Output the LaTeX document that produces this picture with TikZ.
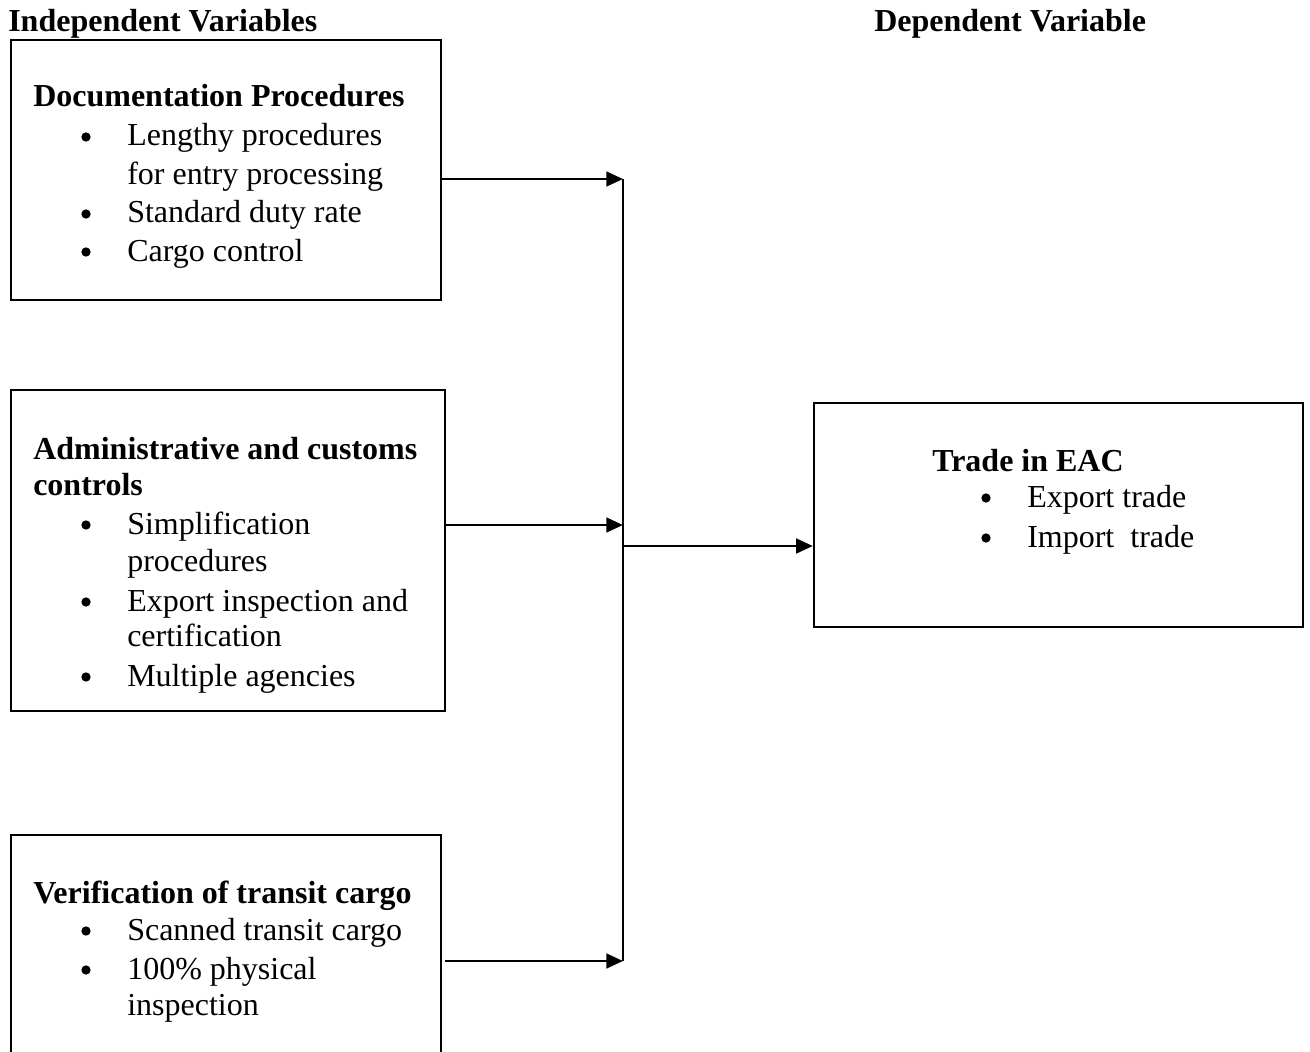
\documentclass[tikz,border=0pt]{standalone}
\usepackage{fontspec}
\setmainfont{Liberation Serif}
\usetikzlibrary{arrows.meta}
\tikzset{
  boxed/.style={draw, line width=1.8pt, inner sep=0pt},
  txt/.style={anchor=base west, inner sep=0pt, font=\fontsize{24}{29}\selectfont},
  head/.style={txt, font=\fontsize{24}{29}\selectfont\bfseries},
  bul/.style={circle, fill, inner sep=0pt, minimum size=7pt},
  conn/.style={line width=2pt, -{Triangle[length=12.5pt,width=11pt]}},
  plain/.style={line width=2pt}
}
\begin{document}
\begin{tikzpicture}[x=0.75pt,y=-0.75pt]
\useasboundingbox (0,0) rectangle (1310,1052);
% headings
\node[head] (hi) at (8,32) {Independent Variables};
\node[head] (hd) at (874,32) {Dependent Variable};
% box 1
\draw[line width=1.8pt] (11,40) rectangle (441,300);
\node[inner sep=0pt, minimum width=430*0.75pt, minimum height=260*0.75pt] (b1) at (226,170) {};
\node[head] (b1t) at (33,107) {Documentation Procedures};
\node[bul] (b1a) at (86,137) {};
\node[txt] (b1at) at (127,146) {Lengthy procedures};
\node[txt] (b1at2) at (127,185) {for entry processing};
\node[bul] (b1b) at (86,214) {};
\node[txt] (b1bt) at (127,223) {Standard duty rate};
\node[bul] (b1c) at (86,252) {};
\node[txt] (b1ct) at (127,261) {Cargo control};
% box 2
\draw[line width=1.8pt] (11,390) rectangle (445,711);
\node[inner sep=0pt, minimum width=434*0.75pt, minimum height=321*0.75pt] (b2) at (228,550.5) {};
\node[head] (b2t) at (33,459) {Administrative and customs};
\node[head] (b2t2) at (33,495) {controls};
\node[bul] (b2a) at (86,525) {};
\node[txt] (b2at) at (127,534) {Simplification};
\node[txt] (b2at2) at (127,571) {procedures};
\node[bul] (b2b) at (86,602) {};
\node[txt] (b2bt) at (127,611) {Export inspection and};
\node[txt] (b2bt2) at (127,646) {certification};
\node[bul] (b2c) at (86,677) {};
\node[txt] (b2ct) at (127,686) {Multiple agencies};
% box 3 (runs past the bottom edge)
\draw[line width=1.8pt] (11,1060) -- (11,835) -- (441,835) -- (441,1060);
\node[inner sep=0pt, minimum width=430*0.75pt, minimum height=250*0.75pt] (b3) at (226,960) {};
\node[head] (b3t) at (33,903) {Verification of transit cargo};
\node[bul] (b3a) at (86,931) {};
\node[txt] (b3at) at (127,940) {Scanned transit cargo};
\node[bul] (b3b) at (86,970) {};
\node[txt] (b3bt) at (127,979) {100\% physical};
\node[txt] (b3bt2) at (127,1015) {inspection};
% box 4
\node[boxed, minimum width=489*0.75pt, minimum height=224*0.75pt] (b4) at (1058.5,515) {};
\node[head] (b4t) at (932,471) {Trade in EAC};
\node[bul] (b4a) at (986,498) {};
\node[txt] (b4at) at (1027,507) {Export trade};
\node[bul] (b4b) at (986,538) {};
\node[txt] (b4bt) at (1027,547) {Import\ \ trade};
% junction coordinates
\coordinate (j1) at (623,179);
\coordinate (j2) at (623,525);
\coordinate (j3) at (623,961);
\coordinate (jm) at (623,546);
\coordinate (s1) at (441,179);
\coordinate (s2) at (445,525);
\coordinate (s3) at (445,961);
% connectors
\draw[conn] (s1) -- (j1);
\draw[conn] (s2) -- (j2);
\draw[conn] (s3) -- (j3);
\draw[plain] (j1) -- (j3);
\draw[conn] (jm) -- (b4.west |- jm);
\end{tikzpicture}
\end{document}
